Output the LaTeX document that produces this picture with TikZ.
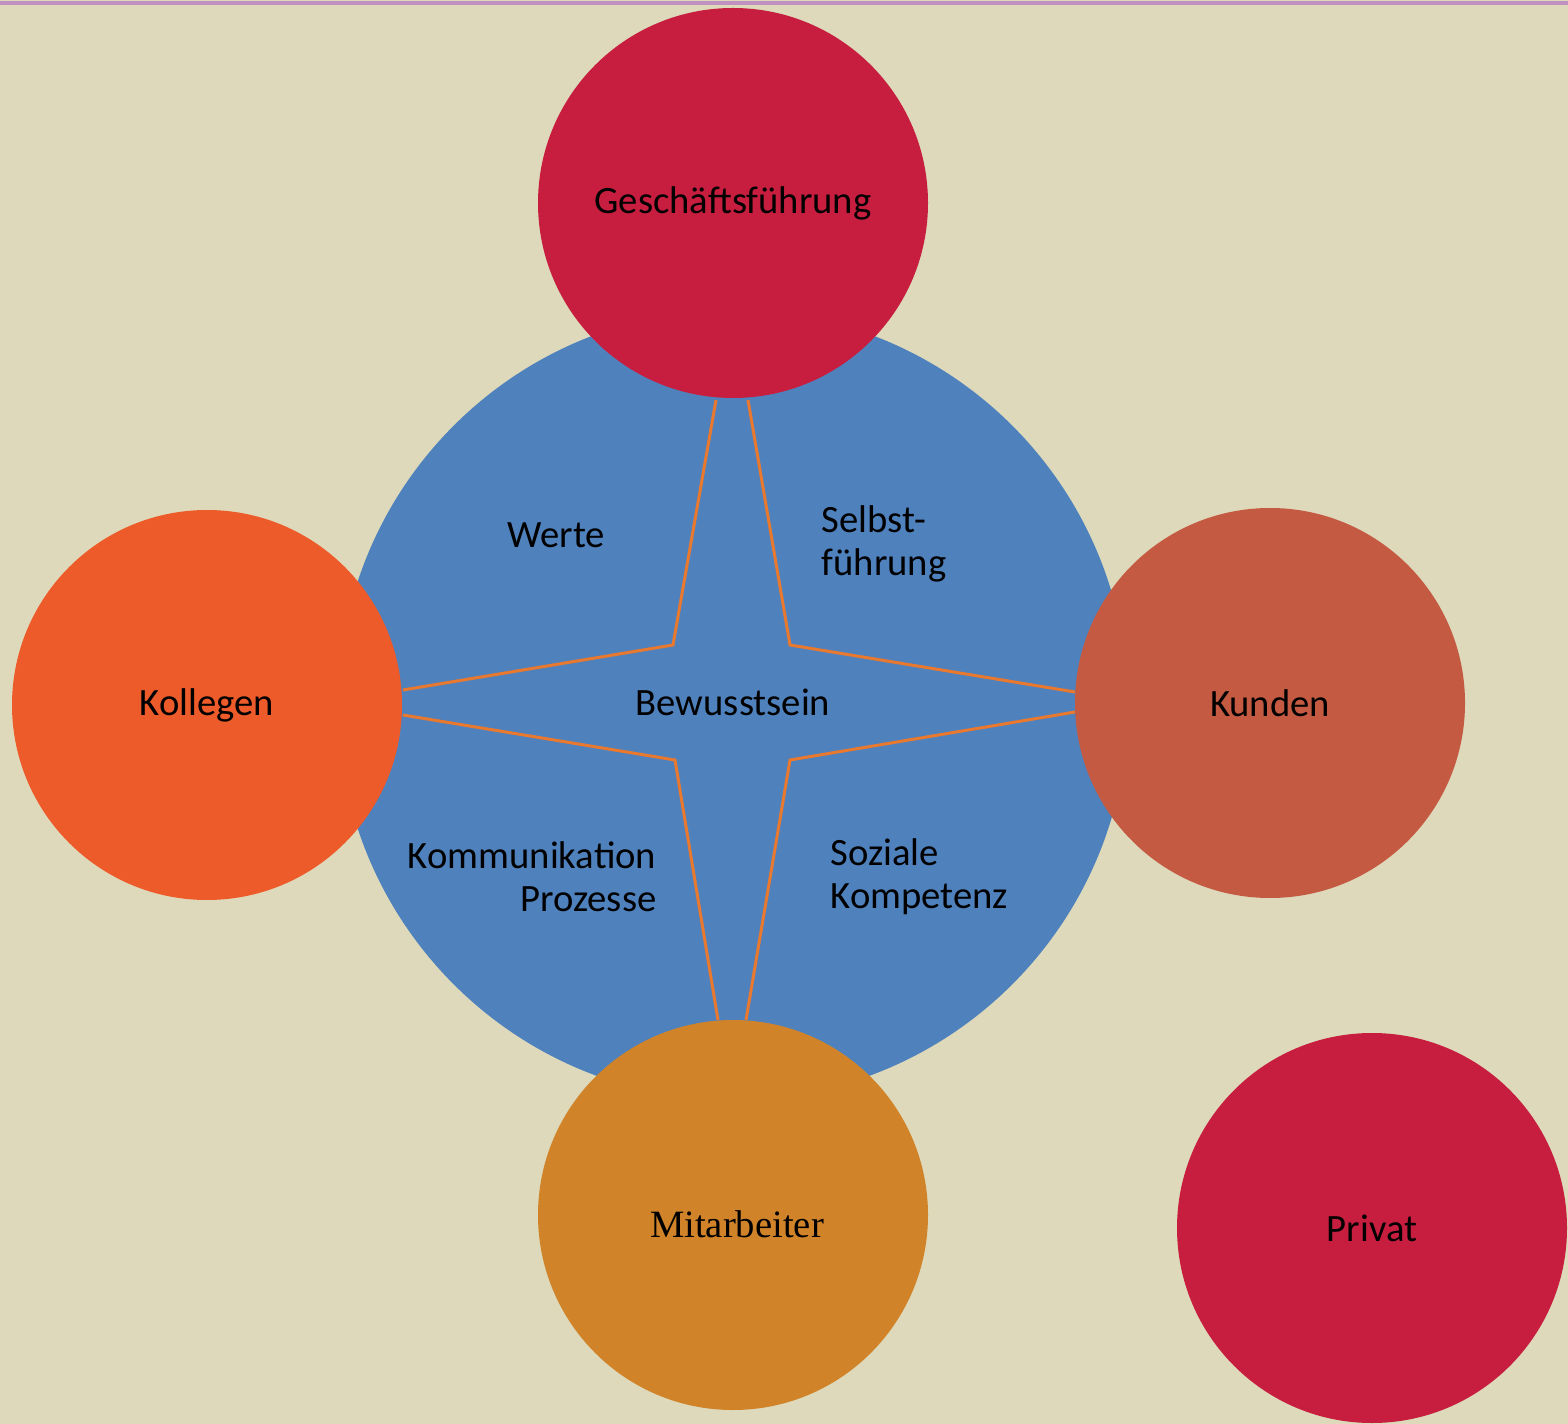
\documentclass[tikz,border=0pt]{standalone}
\usepackage{fontspec}
\setmainfont{Carlito}
\newfontfamily\mitfont{Liberation Serif}

\definecolor{bgsand}{HTML}{DDD9BA}
\definecolor{topline}{HTML}{C090C0}
\definecolor{coreblue}{HTML}{4F81BD}
\definecolor{crimson}{HTML}{C71E40}
\definecolor{kolorange}{HTML}{EE5B2A}
\definecolor{kunbrown}{HTML}{C55A43}
\definecolor{mitochre}{HTML}{D08328}
\definecolor{starline}{HTML}{E8792E}

\tikzset{
  ring/.style={circle, minimum size=3.9cm, inner sep=0pt, font=\fontsize{11}{12.2}\selectfont},
  field/.style={font=\fontsize{11}{12.2}\selectfont, inner sep=0pt, align=left},
  starpath/.style={starline, line width=0.85pt, line join=miter}
}

\begin{document}
\begin{tikzpicture}
\useasboundingbox (0,0) rectangle (15.68,-14.24);
\fill[bgsand] (0,0) rectangle (15.68,-14.24);
\draw[topline, line width=0.9pt] (0,-0.03) -- (15.68,-0.03);

% core circle
\node[circle, fill=coreblue, minimum size=7.9cm, inner sep=0pt] (core) at (7.33,-7.05) {};

% star
\coordinate (tl) at (6.73,-6.45);
\coordinate (tr) at (7.90,-6.45);
\coordinate (bl) at (6.75,-7.60);
\coordinate (br) at (7.90,-7.60);
\coordinate (gfl) at (7.16,-4.00);
\coordinate (gfr) at (7.48,-4.00);
\coordinate (kolt) at (4.03,-6.90);
\coordinate (kolb) at (4.03,-7.15);
\coordinate (kunt) at (10.75,-6.92);
\coordinate (kunb) at (10.75,-7.12);
\coordinate (mitl) at (7.18,-10.20);
\coordinate (mitr) at (7.46,-10.20);
\draw[starpath] (gfl) -- (tl) -- (kolt);
\draw[starpath] (gfr) -- (tr) -- (kunt);
\draw[starpath] (kolb) -- (bl) -- (mitl);
\draw[starpath] (kunb) -- (br) -- (mitr);

% outer circles
\node[ring, fill=crimson] (gf) at (7.33,-2.03) {Geschäftsführung};
\node[ring, fill=kolorange] (kol) at (2.07,-7.05) {Kollegen};
\node[ring, fill=kunbrown] (kun) at (12.70,-7.03) {Kunden};
\node[ring, fill=mitochre] (mit) at (7.33,-12.15) {};
\node[font=\mitfont\fontsize{11}{12}\selectfont, inner sep=0pt] (mittext)
  at ([xshift=0.04cm, yshift=-0.09cm]mit.center) {Mitarbeiter};
\node[ring, fill=crimson] (priv) at (13.72,-12.28) {Privat};

% fields
\node[field] (werte) at (5.56,-5.35) {Werte};
\node[field, anchor=west] (selbst) at (8.21,-5.44) {Selbst-\\führung};
\node[field] (bew) at (7.33,-7.02) {Bewusstsein};
\node[field, anchor=east, align=right] (komm) at (6.57,-8.77) {Kommunikation\\Prozesse};
\node[field, anchor=west] (sozial) at (8.30,-8.77) {Soziale\\Kompetenz};

\end{tikzpicture}
\end{document}
